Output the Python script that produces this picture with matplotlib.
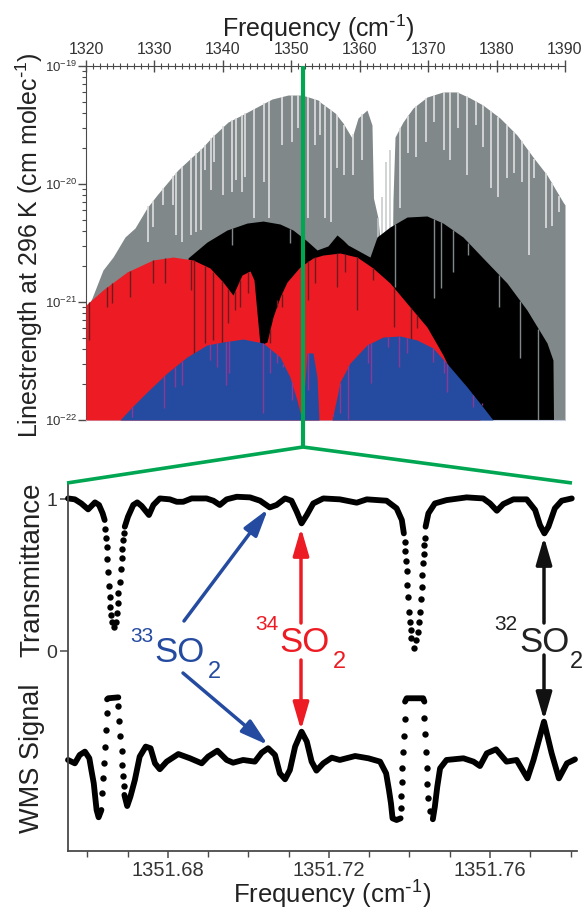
import matplotlib
matplotlib.use('Agg')
import matplotlib.pyplot as plt
import numpy as np
from matplotlib.lines import Line2D
from matplotlib.patches import FancyArrowPatch
from matplotlib.ticker import MultipleLocator, LogLocator, NullFormatter

plt.rcParams['font.family'] = ['Liberation Sans', 'DejaVu Sans']
plt.rcParams['mathtext.default'] = 'regular'

# top panel, envelopes: frequency (cm-1) and log10(linestrength)
grey_f = [1320, 1320.88, 1322.48, 1323.95, 1325.7, 1327.16, 1328.91, 1330.38, 1331.98, 1333.44, 1335.49,
          1336.95, 1338.41, 1340.75, 1342.8, 1344.7, 1347.18, 1349.52, 1351.57, 1353.9, 1354.2, 1356.39,
          1357.56, 1358.87, 1359.75, 1361.06, 1361.79, 1362.01, 1362.67, 1362.96, 1364.79, 1364.86, 1365.16,
          1366.32, 1367.79, 1369.83, 1372.17, 1374.22, 1376.12, 1378.01, 1380.5, 1382.98, 1385.32, 1387.37,
          1389.71, 1390]
grey_log = [-21.068, -20.966, -20.729, -20.619, -20.449, -20.373, -20.203, -20.093, -19.983, -19.881, -19.771,
            -19.695, -19.602, -19.475, -19.415, -19.356, -19.28, -19.246, -19.246, -19.288, -19.305, -19.398,
            -19.483, -19.61, -19.441, -19.373, -19.5, -20.119, -20.288, -20.475, -20.475, -20.136, -19.602,
            -19.475, -19.356, -19.263, -19.22, -19.22, -19.271, -19.331, -19.441, -19.585, -19.771, -19.924,
            -20.153, -20.178]
black_f = [1334.91, 1337.68, 1340.6, 1343.53, 1345.87, 1348.35, 1350.25, 1352.3, 1353.76, 1355.36, 1356.68,
           1357.56, 1358.29, 1361.5, 1362.53, 1364.42, 1366.91, 1369.83, 1372.17, 1375.09, 1378.01, 1381.52,
           1384.44, 1387.37, 1388.24, 1388.32]
black_log = [-20.627, -20.492, -20.39, -20.331, -20.314, -20.339, -20.39, -20.483, -20.559, -20.525, -20.432,
             -20.475, -20.517, -20.619, -20.449, -20.364, -20.28, -20.271, -20.331, -20.449, -20.627, -20.839,
             -21.068, -21.347, -21.492, -22]
red_f = [1320, 1322.48, 1325.99, 1329.79, 1332.71, 1335.64, 1338.12, 1340.02, 1341.48, 1342.8, 1343.97, 1344.55,
         1344.99, 1345.43, 1346.45, 1347.33, 1348.35, 1349.37, 1351.27, 1353.17, 1354.63, 1357.12, 1359.6,
         1361.94, 1364.42, 1367.35, 1369.83, 1372.17, 1373.92, 1376.12, 1377.58]
red_log = [-21.025, -20.898, -20.746, -20.644, -20.619, -20.644, -20.712, -20.831, -20.941, -20.771, -20.737,
           -20.814, -21.093, -21.364, -21.339, -21.127, -20.958, -20.831, -20.703, -20.627, -20.602, -20.585,
           -20.619, -20.712, -20.839, -21.042, -21.212, -21.449, -21.661, -21.873, -22]
blue_f = [1324.97, 1326.72, 1328.91, 1331.84, 1334.76, 1337.68, 1340.02, 1342.94, 1345.87, 1348.35, 1349.81,
          1350.83, 1351.57, 1351.86, 1352.3, 1353.17, 1353.76, 1354.05, 1355.95, 1356.68, 1357.12, 1358.29,
          1358.58, 1361.06, 1363.4, 1365.89, 1368.37, 1370.71, 1373.19, 1375.68, 1378.01, 1379.48]
blue_log = [-22, -21.89, -21.763, -21.602, -21.466, -21.364, -21.339, -21.314, -21.347, -21.466, -21.636,
            -21.831, -22, -21.788, -21.432, -21.432, -21.636, -22, -22, -21.805, -21.678, -21.551,
            -21.517, -21.364, -21.297, -21.288, -21.322, -21.39, -21.551, -21.72, -21.89, -22]

# weak lines: position and how deep the gap reaches
grey_gap_f = [1329.11, 1329.74, 1331.2, 1332.76, 1333.1, 1333.98, 1335.34, 1336.07, 1336.8, 1337.39, 1338.27,
              1338.75, 1340.07, 1341.29, 1341.87, 1342.75, 1343.23, 1344.55, 1346.01, 1346.74, 1348.59, 1350.15,
              1351.03, 1352.39, 1353.46, 1354.19, 1354.92, 1355.75, 1356.63, 1357.75, 1359.06, 1360.38, 1365.88,
              1367, 1368.22, 1369.68, 1370.9, 1372.31, 1373.19, 1374.31, 1375.62, 1376.99, 1377.96, 1379.18,
              1380.25, 1381.57, 1382.59, 1383.66, 1384.73, 1385.51, 1387.17, 1388.05, 1389.17]
grey_gap_log = [-20.488, -20.362, -20.178, -20.178, -20.432, -20.488, -20.432, -20.404, -20.39, -19.881, -20.051,
                -19.811, -20.093, -20.065, -19.966, -20.065, -19.938, -20.291, -19.98, -20.291, -19.67, -19.64,
                -19.528, -20.291, -19.67, -19.585, -20.291, -20.319, -19.867, -19.924, -19.924, -19.797, -20.206,
                -19.74, -19.768, -19.64, -19.472, -19.712, -19.797, -19.528, -19.924, -19.5, -19.684, -20.037,
                -20.107, -19.952, -19.91, -19.98, -20.6, -19.952, -20.376, -20.36, -20.235]
gap_band_f = [1362.62, 1363.2, 1363.84, 1364.42]
gap_band_top = [-20.291, -20.107, -19.811, -19.712]
black_gap_f = [1341.3, 1349.8, 1365.15, 1370.85, 1371.87, 1373.68, 1375.87, 1380.35, 1383.42, 1386.1]
black_gap_log = [-20.517, -20.5, -20.87, -20.969, -20.884, -20.743, -20.602, -21.04, -21.477, -22]
red_gap_f = [1320.49, 1323.02, 1323.75, 1326.43, 1329.84, 1331.54, 1335.29, 1335.78, 1337.39, 1338.61, 1339.82,
             1340.8, 1341.77, 1342.5, 1343.72, 1346.89, 1347.86, 1348.59, 1352.49, 1353.46, 1356.73, 1357.85,
             1359.55, 1361.99, 1365.05, 1367.44, 1368.32]
red_gap_log = [-21.322, -21.04, -21.011, -20.955, -20.842, -20.842, -20.898, -21.449, -21.35, -21.322, -21.35,
               -21.181, -21.068, -21.04, -20.927, -21.35, -20.983, -21.04, -20.983, -20.842, -20.87, -20.743,
               -21.068, -20.814, -21.209, -21.449, -21.223]
blue_gap_f = [1326.67, 1331.4, 1333, 1334, 1338.1, 1339.1, 1340.4, 1340.94, 1345.8, 1346.89, 1347.86, 1348.83,
              1350.05, 1352.49, 1356.14, 1357.1, 1358.33, 1361.26, 1361.65, 1364.18, 1365.79, 1366.86, 1370.66,
              1372.31, 1372.8, 1376.6, 1377.8]
blue_gap_log = [-21.972, -21.9, -21.718, -21.703, -21.492, -21.548, -21.703, -21.604, -21.944, -21.604, -21.52,
                -21.548, -21.831, -21.746, -21.97, -21.94, -21.99, -21.52, -21.689, -21.379, -21.548, -21.435,
                -21.506, -21.604, -21.76, -21.887, -21.859]

# bottom panel, transmittance: smooth runs and the separate dots in the deep lines
t_run1_f = [1351.6552, 1351.6569, 1351.6585, 1351.6602, 1351.6619, 1351.6629, 1351.6638, 1351.6643]
t_run1 = [1.004, 0.998, 0.971, 0.932, 0.978, 0.961, 0.906, 0.862]
t_dots1_f = [1351.6644, 1351.6646, 1351.6648, 1351.6649, 1351.6652, 1351.6653, 1351.6656, 1351.6657, 1351.6658,
             1351.6662, 1351.6667, 1351.6671, 1351.6673, 1351.6675, 1351.6677, 1351.6681, 1351.6683, 1351.6685,
             1351.6687, 1351.6689, 1351.6692]
t_dots1 = [0.800, 0.746, 0.682, 0.603, 0.522, 0.430, 0.353, 0.292, 0.237, 0.193, 0.160, 0.193, 0.248, 0.314,
           0.379, 0.456, 0.537, 0.610, 0.671, 0.730, 0.774]
t_run2_f = [1351.6693, 1351.6701, 1351.6714, 1351.6724, 1351.6735, 1351.6753, 1351.6764, 1351.6780, 1351.6805,
            1351.6822, 1351.6838, 1351.6859, 1351.6896, 1351.6913, 1351.6929, 1351.6946, 1351.6971, 1351.7004,
            1351.7029, 1351.7053, 1351.7070, 1351.7091, 1351.7107, 1351.7120, 1351.7132, 1351.7145, 1351.7161,
            1351.7186, 1351.7227, 1351.7269, 1351.7294, 1351.7343, 1351.7368, 1351.7381, 1351.7386]
t_run2 = [0.818, 0.884, 0.961, 0.978, 0.954, 0.895, 0.961, 1.004, 0.998, 0.982, 0.982, 1.004, 1.004, 0.989, 0.961,
          0.998, 1.015, 1.011, 0.989, 0.945, 0.961, 1.004, 0.989, 0.917, 0.840, 0.895, 0.971, 1.004, 0.998, 0.976,
          0.998, 0.989, 0.939, 0.862, 0.774]
t_dots2_f = [1351.7388, 1351.7390, 1351.7391, 1351.7393, 1351.7395, 1351.7397, 1351.7399, 1351.7401, 1351.7403,
             1351.7405, 1351.7411, 1351.7416, 1351.7420, 1351.7423, 1351.7426, 1351.7429, 1351.7431, 1351.7432,
             1351.7433, 1351.7436, 1351.7437, 1351.7438]
t_dots2 = [0.719, 0.658, 0.594, 0.526, 0.436, 0.357, 0.259, 0.193, 0.138, 0.083, 0.018, 0.072, 0.127, 0.193, 0.259,
           0.340, 0.419, 0.500, 0.577, 0.638, 0.697, 0.746]
t_run3_f = [1351.7440, 1351.7447, 1351.7463, 1351.7492, 1351.7542, 1351.7583, 1351.7600, 1351.7617, 1351.7633,
            1351.7658, 1351.7691, 1351.7712, 1351.7724, 1351.7735, 1351.7745, 1351.7761, 1351.7778, 1351.7803]
t_run3 = [0.818, 0.906, 0.971, 0.993, 1.011, 1.004, 0.971, 0.923, 0.967, 0.998, 0.998, 0.928, 0.829, 0.774, 0.818,
          0.939, 0.989, 1.004]

# bottom panel, WMS signal (plotted on the same arbitrary scale, below zero)
w_run1_f = [1351.6552, 1351.6569, 1351.6581, 1351.6594, 1351.6605, 1351.6610, 1351.6616, 1351.6619, 1351.6623,
            1351.6628, 1351.6635]
w_run1 = [-0.717, -0.739, -0.684, -0.662, -0.706, -0.783, -0.871, -0.947, -1.046, -1.094, -1.046]
w_dots1_f = [1351.6636, 1351.6639, 1351.6642, 1351.6644, 1351.6646, 1351.6648, 1351.6677, 1351.6679, 1351.6682,
             1351.6685, 1351.6687, 1351.6689, 1351.6691]
w_dots1 = [-0.936, -0.838, -0.739, -0.629, -0.520, -0.410, -0.362, -0.458, -0.559, -0.656, -0.750, -0.822, -0.888]
w_top1_f = [1351.6649, 1351.6652, 1351.6677]
w_top1 = [-0.318, -0.311, -0.305]
w_run2_f = [1351.6692, 1351.6699, 1351.6707, 1351.6718, 1351.6730, 1351.6745, 1351.6757, 1351.6768, 1351.6780,
            1351.6797, 1351.6826, 1351.6855, 1351.6884, 1351.6900, 1351.6923, 1351.6946, 1351.6962, 1351.6987,
            1351.7016, 1351.7033, 1351.7049, 1351.7066, 1351.7078, 1351.7091, 1351.7103, 1351.7116, 1351.7132,
            1351.7145, 1351.7157, 1351.7169, 1351.7186, 1351.7207, 1351.7227, 1351.7265, 1351.7298, 1351.7327,
            1351.7342, 1351.7349, 1351.7354, 1351.7358, 1351.7368, 1351.7378]
w_run2 = [-0.947, -1.020, -0.958, -0.849, -0.695, -0.629, -0.640, -0.739, -0.778, -0.728, -0.678, -0.706, -0.739,
          -0.695, -0.656, -0.717, -0.735, -0.717, -0.728, -0.669, -0.640, -0.684, -0.805, -0.844, -0.783, -0.629,
          -0.531, -0.596, -0.728, -0.787, -0.739, -0.702, -0.717, -0.691, -0.706, -0.728, -0.805, -0.914, -1.002,
          -1.101, -1.112, -1.101]
w_dots2_f = [1351.7379, 1351.7380, 1351.7381, 1351.7382, 1351.7385, 1351.7386, 1351.7388, 1351.7437, 1351.7439,
             1351.7441, 1351.7443, 1351.7444, 1351.7446, 1351.7451]
w_dots2 = [-1.035, -0.952, -0.864, -0.768, -0.667, -0.557, -0.447, -0.439, -0.548, -0.662, -0.772, -0.875, -0.965,
           -1.050]
w_top2_f = [1351.7389, 1351.7393, 1351.7434, 1351.7437]
w_top2 = [-0.333, -0.311, -0.311, -0.333]
w_run3_f = [1351.7458, 1351.7463, 1351.7469, 1351.7476, 1351.7492, 1351.7534, 1351.7559, 1351.7575, 1351.7592,
            1351.7615, 1351.7641, 1351.7666, 1351.7693, 1351.7708, 1351.7734, 1351.7753, 1351.7771, 1351.7791,
            1351.7811]
w_run3 = [-1.107, -1.024, -0.893, -0.772, -0.717, -0.706, -0.728, -0.757, -0.673, -0.647, -0.728, -0.717, -0.838,
          -0.717, -0.465, -0.673, -0.838, -0.739, -0.713]

top_ticks = [1320, 1330, 1340, 1350, 1360, 1370, 1380, 1390]
bottom_ticks = [1351.68, 1351.72, 1351.76]

GREY = '#80888a'
RED = '#ed1c24'
BLUE = '#254ba0'
GREEN = '#00a651'
DARK = '#4a4a4a'
W, H = 584, 913


def pw(vals):
    return np.power(10.0, np.array(vals, dtype=float))


def gaps(ax, f, low, env_f, env_log, color, z, lw=1.0):
    top = np.interp(f, env_f, env_log)
    ax.vlines(f, pw(low), pw(top), colors=color, linewidth=lw, zorder=z)


def fx(x):
    return x / W


def fy(y):
    return 1 - y / H


fig = plt.figure(figsize=(5.84, 9.13), dpi=100)

ax1 = fig.add_axes([fx(86), fy(420), (565 - 86) / W, (420 - 66) / H])
ax1.fill_between(grey_f, 1e-22, pw(grey_log), color=GREY, linewidth=0, zorder=1)
ax1.vlines(gap_band_f, 1e-22, pw(gap_band_top), colors='#c4c9ca', linewidth=1.1, zorder=1.2)
gaps(ax1, grey_gap_f, grey_gap_log, grey_f, grey_log, '#dcdcdc', 1.5, lw=1.25)
ax1.fill_between(black_f, 1e-22, pw(black_log), color='black', linewidth=0, zorder=2)
gaps(ax1, black_gap_f, black_gap_log, black_f, black_log, GREY, 2.5)
ax1.fill_between(red_f, 1e-22, pw(red_log), color=RED, linewidth=0, zorder=3)
gaps(ax1, red_gap_f, red_gap_log, red_f, red_log, '#6e1a1e', 3.5)
ax1.fill_between(blue_f, 1e-22, pw(blue_log), color=BLUE, linewidth=0, zorder=4)
gaps(ax1, blue_gap_f, blue_gap_log, blue_f, blue_log, '#8a3a96', 4.5)

ax1.set_xlim(1320, 1390)
ax1.set_ylim(1e-22, 1e-19)
ax1.set_yscale('log')
ax1.xaxis.tick_top()
ax1.set_xticks(top_ticks)
ax1.set_xticklabels([str(t) for t in top_ticks], fontsize=11.5, color='#333333')
ax1.xaxis.set_minor_locator(MultipleLocator(1))
ax1.set_yticks([1e-22, 1e-21, 1e-20, 1e-19])
ax1.set_yticklabels(['10$^{-22}$', '10$^{-21}$', '10$^{-20}$', '10$^{-19}$'], fontsize=9.5, color='#333333')
ax1.yaxis.set_minor_locator(LogLocator(base=10, subs=np.arange(2, 10), numticks=10))
ax1.yaxis.set_minor_formatter(NullFormatter())
ax1.tick_params(axis='x', which='major', direction='inout', length=9, width=1.0, color=DARK, pad=2)
ax1.tick_params(axis='x', which='minor', direction='inout', length=5, width=0.8, color=DARK)
ax1.tick_params(axis='y', which='major', direction='out', length=6, width=1.0, color=DARK, pad=0.5)
ax1.tick_params(axis='y', which='minor', direction='out', length=3, width=0.8, color=DARK)
ax1.spines['right'].set_visible(False)
ax1.spines['bottom'].set_color('#c5cbe0')
ax1.spines['top'].set_color(DARK)
ax1.spines['left'].set_color(DARK)

ax2 = fig.add_axes([fx(68), fy(851), (577 - 68) / W, (851 - 484) / H])
for run_f, run in [(t_run1_f, t_run1), (t_run2_f, t_run2), (t_run3_f, t_run3),
                   (w_run1_f, w_run1), (w_top1_f, w_top1), (w_run2_f, w_run2),
                   (w_top2_f, w_top2), (w_run3_f, w_run3)]:
    ax2.plot(run_f, run, color='black', lw=4.2, solid_capstyle='round', solid_joinstyle='round', clip_on=False)
for dot_f, dot in [(t_dots1_f, t_dots1), (t_dots2_f, t_dots2), (w_dots1_f, w_dots1), (w_dots2_f, w_dots2)]:
    ax2.plot(dot_f, dot, 'o', color='black', ms=4.6, mew=0, clip_on=False)

ax2.set_xlim(1351.6552, 1351.7816)
ax2.set_ylim(-1.316, 1.099)
ax2.set_xticks(bottom_ticks)
ax2.set_xticklabels(['%.2f' % t for t in bottom_ticks], fontsize=14.5, color='#333333')
ax2.xaxis.set_minor_locator(MultipleLocator(0.01))
ax2.set_yticks([0, 1])
ax2.set_yticklabels(['0', '1'], fontsize=14, color='#333333')
ax2.tick_params(axis='x', which='major', direction='out', length=5, width=1.1, color=DARK, pad=2)
ax2.tick_params(axis='x', which='minor', direction='out', length=4, width=1.0, color=DARK)
ax2.tick_params(axis='y', which='major', direction='out', length=6, width=1.1, color=DARK, pad=2)
for s in ['top', 'right']:
    ax2.spines[s].set_visible(False)
for s in ['left', 'bottom']:
    ax2.spines[s].set_color(DARK)
    ax2.spines[s].set_linewidth(1.3)

# axis titles
fig.text(fx(318), fy(28), 'Frequency (cm$^{\\text{-}1}$)', fontsize=18, color='#222222', ha='center', va='center')
fig.text(fx(332), fy(895), 'Frequency (cm$^{\\text{-}1}$)', fontsize=18.5, color='#222222', ha='center', va='center')
fig.text(fx(29), fy(245), 'Linestrength at 296 K (cm molec$^{\\text{-}1}$)', fontsize=18, color='#222222',
         rotation=90, ha='center', va='center')
fig.text(fx(32), fy(570), 'Transmittance', fontsize=20, color='#222222', rotation=90, ha='center', va='center')
fig.text(fx(32), fy(758), 'WMS Signal', fontsize=19.5, color='#222222', rotation=90, ha='center', va='center')

# green zoom lines
for xs, ys, lw in [([303, 303], [66, 447], 3.0), ([67, 303], [483, 447], 2.6), ([303, 572], [447, 483], 2.6)]:
    fig.add_artist(Line2D([fx(v) for v in xs], [fy(v) for v in ys], color=GREEN, lw=lw, solid_capstyle='butt'))


def arrow(x0, y0, x1, y1, color, lw=2.5):
    fig.add_artist(FancyArrowPatch(
        (fx(x0), fy(y0)), (fx(x1), fy(y1)), transform=fig.transFigure, color=color, lw=lw,
        arrowstyle='-|>,head_length=1.1,head_width=0.32', mutation_scale=15, shrinkA=0, shrinkB=0))


arrow(184, 621, 268, 509, BLUE)
arrow(183, 673, 268, 745, BLUE)
arrow(301, 623, 301, 528, RED)
arrow(301, 660, 301, 730, RED)
arrow(544, 623, 544, 537, '#111111')
arrow(544, 655, 544, 720, '#111111')


def label(mass, x_mass, x_so, y_mass, y_so, y_two, x_two, color):
    fig.text(fx(x_mass), fy(y_mass), mass, fontsize=15, color=color, ha='left', va='center')
    fig.text(fx(x_so), fy(y_so), 'SO', fontsize=25, color=color, ha='left', va='center')
    fig.text(fx(x_two), fy(y_two), '2', fontsize=17, color=color, ha='left', va='center')


label('33', 130, 154, 636, 652, 672, 208, BLUE)
label('34', 255, 279, 624, 642, 662, 333, RED)
label('32', 494, 519, 624, 642, 662, 570, '#222222')

plt.savefig('out.png', dpi=100)
